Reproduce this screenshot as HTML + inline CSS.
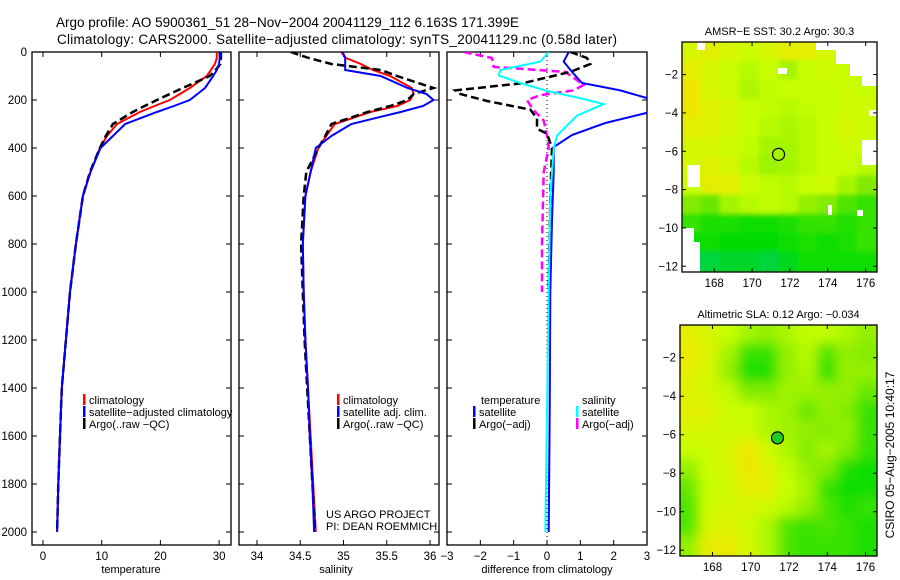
<!DOCTYPE html>
<html><head><meta charset="utf-8">
<style>
body{margin:0;background:#fff;}
svg{display:block;font-family:"Liberation Sans",sans-serif;}
text{fill:#000;}
</style></head>
<body>
<svg id="chart" width="900" height="580" viewBox="0 0 900 580" xmlns="http://www.w3.org/2000/svg">
<defs>
<filter id="blurTop" x="0" y="0" width="1" height="1"><feGaussianBlur stdDeviation="2.5"/></filter>
<filter id="blurBot" x="0" y="0" width="1" height="1"><feGaussianBlur stdDeviation="6"/></filter>
<clipPath id="clipTop"><rect x="682" y="42" width="195" height="230"/></clipPath>
<clipPath id="clipBot"><rect x="680" y="325" width="197" height="231"/></clipPath>
<clipPath id="clipP1"><rect x="32" y="52" width="199" height="493"/></clipPath>
<clipPath id="clipP2"><rect x="239" y="52" width="200" height="493"/></clipPath>
<clipPath id="clipP3"><rect x="447" y="52" width="200" height="493"/></clipPath>
</defs>
<text x="56" y="27" font-size="13.5" textLength="463">Argo profile: AO 5900361_51 28−Nov−2004 20041129_112 6.163S 171.399E</text>
<text x="57" y="44" font-size="13.5" textLength="560">Climatology: CARS2000. Satellite−adjusted climatology: synTS_20041129.nc (0.58d later)</text>
<g id="g"></g>
<text transform="translate(894,455) rotate(-90)" text-anchor="middle" font-size="12">CSIRO 05−Aug−2005 10:40:17</text>
</svg>
<script>
// ---- profile data ----
const depths = [0,25,50,75,100,150,175,200,225,250,300,350,400,500,600,800,1000,1200,1400,1600,1800,2000];
const tempClim = [29.6,29.6,29.3,28.6,27.9,25.0,23.3,21.6,19.0,16.5,12.6,10.9,9.7,8.1,6.8,5.6,4.6,3.9,3.2,2.9,2.6,2.4];
const tempSat  = [30.2,30.1,30.0,29.6,29.0,27.6,26.3,25.0,22.3,19.4,14.0,11.9,9.8,8.1,6.8,5.6,4.6,3.9,3.2,2.9,2.6,2.4];
const tempArgo = [30.3,30.3,30.2,29.4,28.4,23.8,21.6,19.4,17.3,15.3,11.9,10.7,9.7,8.0,6.8,5.6,4.6,3.9,3.2,2.9,2.6,2.4];
const salClim = [34.97,35.03,35.20,35.34,35.54,35.79,35.81,35.77,35.62,35.31,34.90,34.80,34.71,34.62,34.56,34.53,34.54,34.56,34.59,34.62,34.65,34.68];
const salSat  = [34.99,35.02,35.02,35.02,35.43,35.74,35.96,36.04,35.92,35.66,35.09,34.86,34.68,34.62,34.56,34.53,34.54,34.56,34.59,34.61,34.64,34.66];
const salArgo = [34.39,34.60,34.86,35.43,35.62,36.04,35.81,35.74,35.54,35.28,34.86,34.79,34.71,34.57,34.54,34.51,34.53,34.55,34.58,34.61,34.64,34.67];
// difference panel data
const dDepthT = [0,40,83,129,160,196,250,296,346,396,500,700,1000,1500,2000];
const dTempSat = [0.65,0.5,0.75,1.05,2.2,3.1,3.1,1.75,0.75,0.2,0.2,0.15,0.1,0.08,0.05];
const dDepthA = [0,25,50,83,129,160,175,204,240,277,320,340,400,600,1000];
const dTempArgo = [0.7,1.2,1.3,0.7,-0.7,-2.75,-2.6,-1.8,-0.5,-0.3,-0.3,0,0.15,0.1,0.05];
const dDepthS = [0,40,75,98,129,162,196,217,265,348,403,600,1000,1500,2000];
const dSalSat = [0.05,-0.2,-1.4,-1.45,-0.8,0,1.1,1.7,0.9,0.3,0.2,0.1,0.05,0,-0.05];
const dDepthM = [0,25,62,83,137,160,180,201,243,285,348,400,500,800,1000];
const dSalArgo = [-2.5,-1.65,-1.6,0.55,1.1,0.8,-0.2,-0.6,-0.4,-0.1,0,0.05,-0.1,-0.15,-0.15];
const depthTicks = [0,200,400,600,800,1000,1200,1400,1600,1800,2000];
const tempTicks = [0,10,20,30];
const salTicks = ["34","34.5","35","35.5","36"];
const diffTicks = [-3,-2,-1,0,1,2,3];
// ---- map data (values 0..1 on colour scale) ----
const sstGrid = [
[.75,.8,.75,.72,.75,.8,.8,.75,.7,.7],
[.8,.75,.7,.65,.7,.6,.7,.72,.7,.7],
[.85,.75,.72,.62,.68,.7,.7,.7,.72,.7],
[.85,.78,.75,.7,.68,.65,.68,.7,.72,.72],
[.8,.78,.75,.7,.65,.62,.65,.7,.75,.72],
[.75,.75,.72,.68,.6,.6,.65,.7,.72,.7],
[.75,.78,.75,.65,.58,.6,.65,.7,.7,.65],
[.7,.8,.8,.72,.68,.65,.7,.72,.6,.5],
[.5,.45,.6,.65,.68,.65,.55,.5,.4,.35],
[.35,.3,.3,.28,.28,.3,.35,.35,.32,.35],
[.28,.27,.25,.25,.25,.27,.3,.28,.3,.35],
[.1,.15,.18,.18,.15,.2,.27,.28,.28,.28]];
const slaGrid = [
[.8,.75,.7,.6,.55,.62,.68,.68,.62,.55],
[.82,.78,.6,.35,.35,.55,.65,.4,.55,.5],
[.8,.75,.55,.3,.3,.55,.62,.35,.55,.55],
[.78,.75,.68,.5,.5,.58,.58,.55,.55,.45],
[.8,.78,.72,.7,.62,.58,.45,.55,.5,.35],
[.75,.75,.72,.72,.62,.58,.55,.5,.55,.35],
[.7,.72,.75,.85,.72,.62,.5,.6,.5,.35],
[.55,.72,.75,.85,.78,.68,.55,.5,.3,.28],
[.45,.7,.72,.8,.8,.7,.6,.35,.28,.28],
[.4,.72,.75,.75,.72,.65,.55,.4,.3,.35],
[.4,.75,.78,.72,.62,.4,.35,.4,.35,.3],
[.55,.82,.82,.75,.62,.4,.35,.35,.35,.3]];
const lonTicks = [168,170,172,174,176];
const latTicks = [-2,-4,-6,-8,-10,-12];
const argoLon = 171.399, argoLat = -6.163;

const NS="http://www.w3.org/2000/svg";
const G=document.getElementById('g');
function mk(tag,attrs,parent){const e=document.createElementNS(NS,tag);for(const k in attrs)e.setAttribute(k,attrs[k]);(parent||G).appendChild(e);return e;}
function txt(x,y,s,size,anchor,parent){const t=mk('text',{x:x,y:y,'font-size':size,'text-anchor':anchor||'start'},parent);t.textContent=s;return t;}
const yD = d => 52 + d*0.24;
const xT = v => 43 + v*5.87;
const xS = v => 257 + (v-34)*86.5;
const xDf = v => 547 + v*33.33;

function frame(x,y,w,h,name){
  const r=mk('rect',{x:x,y:y,width:w,height:h,fill:'none',stroke:'#000','stroke-width':1.3});
  
  
}
function line(xs,ds,xf,color,w,dash,name,clip){
  const pts=xs.map((v,i)=>xf(v).toFixed(1)+','+yD(ds[i]).toFixed(1)).join(' ');
  const a={points:pts,fill:'none',stroke:color,'stroke-width':w,'clip-path':'url(#'+clip+')'};
  if(dash)a['stroke-dasharray']=dash;
  const p=mk('polyline',a);
  
  
}
function depthTicksFor(x0,x1){depthTicks.forEach(d=>{mk('line',{x1:x0,y1:yD(d),x2:x0+5,y2:yD(d),stroke:'#000'});mk('line',{x1:x1,y1:yD(d),x2:x1-5,y2:yD(d),stroke:'#000'});});}
function xTicks(vals,xf,labels){vals.forEach((v,i)=>{const x=xf(v);mk('line',{x1:x,y1:52,x2:x,y2:57,stroke:'#000'});mk('line',{x1:x,y1:545,x2:x,y2:540,stroke:'#000'});const t=txt(x,560,labels?labels[i]:String(v).replace('-','−'),11.5,'middle');});}
function legendEntry(x,y,color,label){mk('rect',{x:x,y:y-10,width:2.5,height:11,fill:color});const t=txt(x+6,y,label,11);}

// depth labels
depthTicks.forEach(d=>{const t=txt(27,yD(d)+4,String(d),11.5,'end');});

// Panel 1 temperature
frame(32,52,199,493,'temperature-panel');
depthTicksFor(32,231);
xTicks(tempTicks,xT);
line(tempClim,depths,xT,'#f00',2,null,'temp-climatology-line','clipP1');
line(tempArgo,depths,xT,'#000',2.5,'8 4','temp-argo-line','clipP1');
line(tempSat,depths,xT,'#00f',2,null,'temp-satellite-line','clipP1');
{const t=txt(131,573,'temperature',11,'middle');}
legendEntry(83,404,'#f00','climatology');
legendEntry(83,416,'#00f','satellite−adjusted climatology');
legendEntry(83,428,'#000','Argo(..raw −QC)');

// Panel 2 salinity
frame(239,52,200,493,'salinity-panel');
depthTicksFor(239,439);
xTicks(salTicks.map(Number),xS,salTicks);
line(salClim,depths,xS,'#f00',2,null,'sal-climatology-line','clipP2');
line(salArgo,depths,xS,'#000',2.5,'8 4','sal-argo-line','clipP2');
line(salSat,depths,xS,'#00f',2,null,'sal-satellite-line','clipP2');
{const t=txt(336,573,'salinity',11,'middle');}
legendEntry(337,404,'#f00','climatology');
legendEntry(337,416,'#00f','satellite adj. clim.');
legendEntry(337,428,'#000','Argo(..raw −QC)');
{const t=txt(326,518,'US ARGO PROJECT',11);
 const t2=txt(326,530,'PI: DEAN ROEMMICH',11);}

// Panel 3 differences
frame(447,52,200,493,'difference-panel');
depthTicksFor(447,647);
xTicks(diffTicks,xDf);
mk('line',{x1:xDf(0),y1:52,x2:xDf(0),y2:545,stroke:'#000','stroke-dasharray':'1 3'});
line(dSalArgo,dDepthM,xDf,'#f0f',2.5,'8 4','sal-argo-diff-line','clipP3');
line(dTempArgo,dDepthA,xDf,'#000',2.5,'8 4','temp-argo-diff-line','clipP3');
line(dTempSat,dDepthT,xDf,'#00f',2,null,'temp-satellite-diff-line','clipP3');
line(dSalSat,dDepthS,xDf,'#0ff',2,null,'sal-satellite-diff-line','clipP3');
{const t=txt(547,573,'difference from climatology',11,'middle');}
{const t=txt(481,404,'temperature',11);
 const t2=txt(582,404,'salinity',11);}
legendEntry(473,416,'#00f','satellite');
legendEntry(473,428,'#000','Argo(−adj)');
legendEntry(576,416,'#0ff','satellite');
legendEntry(576,428,'#f0f','Argo(−adj)');

// ---- maps ----
function cmap(v){
  const stops=[[0,[0,200,150]],[0.25,[0,220,0]],[0.5,[130,235,0]],[0.7,[200,255,0]],[0.85,[240,230,0]],[1,[245,170,0]]];
  for(let i=1;i<stops.length;i++){if(v<=stops[i][0]){const a=stops[i-1],b=stops[i],f=(v-a[0])/(b[0]-a[0]);return 'rgb('+a[1].map((c,k)=>Math.round(c+(b[1][k]-c)*f)).join(',')+')';}}
  return 'rgb(245,170,0)';
}
function drawMap(grid,x0,y0,w,h,lon0,lon1,lat0,lat1,filt,clip,name,title,titleY){
  const grp=mk('g',{'clip-path':'url(#'+clip+')'});
  
  
  mk('rect',{x:x0,y:y0,width:w,height:h,fill:cmap(0.65)},grp);
  const inner=mk('g',{filter:'url(#'+filt+')'},grp);
  const rows=grid.length,cols=grid[0].length,cw=w/cols,ch=h/rows;
  // extend edge cells outward so blur doesn't fade at borders
  grid.forEach((row,r)=>row.forEach((v,c)=>{
    const ex0=c===0?12:1, ey0=r===0?12:1, ex1=c===cols-1?12:1, ey1=r===rows-1?12:1;
    const cell=mk('rect',{x:x0+c*cw-ex0,y:y0+r*ch-ey0,width:cw+ex0+ex1,height:ch+ey0+ey1,fill:cmap(v)},inner);
    
    
  }));
  const lx=v=>x0+(v-lon0)/(lon1-lon0)*w, ly=v=>y0+(lat0-v)/(lat0-lat1)*h;
  lonTicks.forEach(v=>{const x=lx(v);mk('line',{x1:x,y1:y0+h,x2:x,y2:y0+h-4,stroke:'#000'});mk('line',{x1:x,y1:y0,x2:x,y2:y0+4,stroke:'#000'});const t=txt(x,y0+h+15,String(v),11.5,'middle');});
  latTicks.forEach(v=>{const y=ly(v);mk('line',{x1:x0,y1:y,x2:x0+4,y2:y,stroke:'#000'});mk('line',{x1:x0+w,y1:y,x2:x0+w-4,y2:y,stroke:'#000'});const t=txt(x0-4,y+4,String(v).replace('-','−'),11.5,'end');});
  const t=txt(x0+w/2,titleY,title,11,'middle');
  return {lx,ly,grp};
}
const m1=drawMap(sstGrid,682,42,195,230,166.3,176.6,-0.3,-12.3,'blurTop','clipTop','sst-map','AMSR−E SST: 30.2 Argo: 30.3',35);
// land/no-data patches
[[697,42,8,8],[816,42,61,8],[836,50,41,14],[850,64,27,12],[862,76,15,10],[778,68,9,6],[869,110,8,6],[862,140,15,25],[687,165,13,22],[682,228,12,44],[694,242,6,30],[828,205,4,10],[857,210,6,6]].forEach(p=>{mk('rect',{x:p[0],y:p[1],width:p[2],height:p[3],fill:'#fff'},m1.grp);});
mk('rect',{x:682,y:42,width:195,height:230,fill:'none',stroke:'#000','stroke-width':1.3});
{const c=mk('circle',{cx:m1.lx(argoLon),cy:m1.ly(argoLat),r:6,fill:'none',stroke:'#000','stroke-width':1.2});}
const m2=drawMap(slaGrid,680,325,197,231,166.3,176.6,-0.3,-12.3,'blurBot','clipBot','sla-map','Altimetric SLA: 0.12 Argo: −0.034',318);
mk('rect',{x:680,y:325,width:197,height:231,fill:'none',stroke:'#000','stroke-width':1.3});
{const c=mk('circle',{cx:m2.lx(argoLon),cy:m2.ly(argoLat),r:6,fill:'#2c2',stroke:'#000','stroke-width':1.2});}
</script>
</body></html>
